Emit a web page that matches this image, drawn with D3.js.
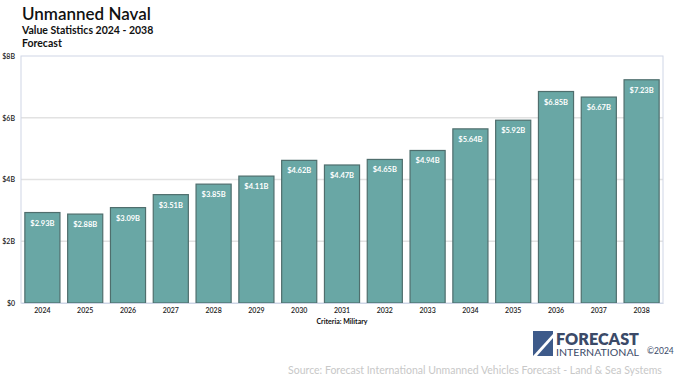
<!DOCTYPE html>
<html>
<head>
<meta charset="utf-8">
<script src="https://cdn.jsdelivr.net/npm/d3@7"></script>
<style>
  body { margin: 0; background: #fff; font-family: Lato, "Open Sans", sans-serif; }
  svg text { font-family: Lato, "Open Sans", sans-serif; }
</style>
</head>
<body>
<div id="chart"></div>
<script>
// data
var years = ["2024","2025","2026","2027","2028","2029","2030","2031","2032","2033","2034","2035","2036","2037","2038"];
var values = [2.93, 2.88, 3.09, 3.51, 3.85, 4.11, 4.62, 4.47, 4.65, 4.94, 5.64, 5.92, 6.85, 6.67, 7.23];
var yTicks = [0, 2, 4, 6, 8];

var W = 683, H = 379;
var margin = {top: 56, right: 20, bottom: 76, left: 21};
var width = W - margin.left - margin.right,
    height = H - margin.top - margin.bottom;

var svg = d3.select("#chart").append("svg").attr("width", W).attr("height", H);

// titles
svg.append("text").attr("x", 22).attr("y", 20).attr("font-size", 17).attr("font-weight", 600)
  .attr("fill", "#111").text("Unmanned Naval");
svg.append("text").attr("x", 22).attr("y", 34).attr("font-size", 10.5).attr("font-weight", 700)
  .attr("fill", "#111").text("Value Statistics 2024 - 2038");
svg.append("text").attr("x", 22).attr("y", 47).attr("font-size", 10.5).attr("font-weight", 700)
  .attr("fill", "#111").text("Forecast");

var g = svg.append("g").attr("transform", "translate(" + margin.left + "," + margin.top + ")");

var x = d3.scaleBand().domain(years).range([0, width]).paddingInner(0.18).paddingOuter(0.09);
var y = d3.scaleLinear().domain([0, 8]).range([height, 0]);

// gridlines
g.selectAll(".grid").data(yTicks.slice(1, -1)).enter().append("line")
  .attr("x1", 0).attr("x2", width)
  .attr("y1", function(d) { return y(d); }).attr("y2", function(d) { return y(d); })
  .attr("stroke", "#e2e2e2").attr("stroke-width", 1.5);

// frame
g.append("rect").attr("x", 0).attr("y", 0).attr("width", width).attr("height", height)
  .attr("fill", "none").attr("stroke", "#cfd6e6").attr("stroke-width", 1);

// bars
g.selectAll(".bar").data(values).enter().append("rect")
  .attr("x", function(d, i) { return x(years[i]); })
  .attr("y", function(d) { return y(d); })
  .attr("width", x.bandwidth())
  .attr("height", function(d) { return height - y(d); })
  .attr("fill", "#69a7a5").attr("stroke", "#4f6e6d").attr("stroke-width", 1.2);

// value labels
g.selectAll(".lbl").data(values).enter().append("text")
  .attr("x", function(d, i) { return x(years[i]) + x.bandwidth() / 2; })
  .attr("y", function(d) { return y(d) + 13; })
  .attr("text-anchor", "middle").attr("font-size", 7.5).attr("font-weight", 700)
  .attr("fill", "#fff")
  .text(function(d) { return "$" + d.toFixed(2) + "B"; });

// axes
var xAxis = g.append("g").attr("transform", "translate(0," + height + ")")
  .call(d3.axisBottom(x).tickSize(0).tickPadding(5));
xAxis.select(".domain").attr("stroke", "#cfd6e6");
xAxis.selectAll("text").attr("font-size", 7).attr("font-weight", 600).attr("fill", "#222");

var yAxis = g.append("g")
  .call(d3.axisLeft(y).tickValues(yTicks).tickSize(0).tickPadding(6)
    .tickFormat(function(d) { return d === 0 ? "$0" : "$" + d + "B"; }));
yAxis.select(".domain").remove();
yAxis.selectAll("text").attr("font-size", 7).attr("font-weight", 600).attr("fill", "#222");

svg.append("text").attr("x", margin.left + width / 2).attr("y", 324).attr("text-anchor", "middle")
  .attr("font-size", 7).attr("font-weight", 700).attr("fill", "#111").text("Criteria: Military");

// logo
var logo = svg.append("g").attr("transform", "translate(533,331)");
logo.append("rect").attr("width", 20).attr("height", 25).attr("fill", "#3d5a8a");
logo.append("path").attr("d", "M0,25 L20,3 L20,7 L4,25 Z").attr("fill", "#fff");
logo.append("text").attr("x", 23).attr("y", 14).attr("font-size", 16).attr("font-weight", 800)
  .attr("fill", "#3b4a68").attr("font-family", "'DejaVu Sans', sans-serif")
  .attr("textLength", 83).attr("lengthAdjust", "spacingAndGlyphs")
  .text("FORECAST");
logo.append("text").attr("x", 23).attr("y", 24.5).attr("font-size", 9)
  .attr("fill", "#3b4a68").attr("font-family", "'DejaVu Sans', sans-serif")
  .attr("textLength", 83).attr("lengthAdjust", "spacingAndGlyphs")
  .text("INTERNATIONAL");
svg.append("text").attr("x", 647).attr("y", 354).attr("font-size", 8.5).attr("fill", "#3b4a68")
  .text("©2024");

svg.append("text").attr("x", 475).attr("y", 374).attr("text-anchor", "middle")
  .attr("font-size", 10.5).attr("fill", "#c8c8c8")
  .text("Source: Forecast International Unmanned Vehicles Forecast - Land & Sea Systems");
</script>
</body>
</html>
